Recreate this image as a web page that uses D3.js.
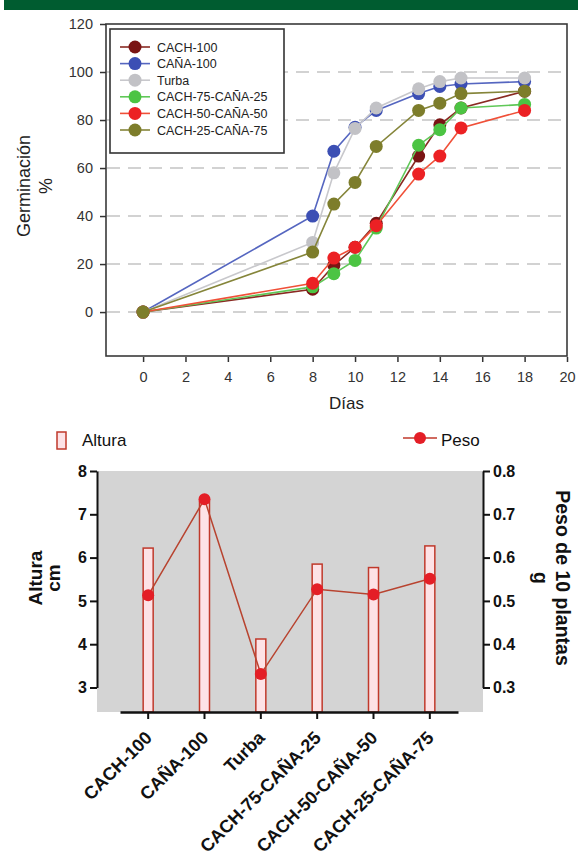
<!DOCTYPE html>
<html>
<head>
<meta charset="utf-8">
<script src="https://cdn.jsdelivr.net/npm/d3@7"></script>
<style>
  body { margin: 0; background: #fff; }
  svg { display: block; font-family: "Liberation Sans", Arial, sans-serif; }
</style>
</head>
<body>
<svg width="578" height="855"></svg>
<script>
// germination data (top chart)
const days = [0, 8, 9, 10, 11, 13, 14, 15, 18];
const seriesNames = ["CACH-100", "CAÑA-100", "Turba", "CACH-75-CAÑA-25", "CACH-50-CAÑA-50", "CACH-25-CAÑA-75"];
const cach100 = [0, 9.5, 19.5, 27, 37, 65, 78, 85, 92];
const cana100 = [0, 40, 67, 77, 84, 91, 94, 95, 96];
const turba = [0, 29, 58, 76.5, 85, 93, 96, 97.5, 97.5];
const cach75 = [0, 10.5, 16, 21.5, 35, 69.5, 76, 85, 86.5];
const cach50 = [0, 12, 22.5, 27, 36, 57.5, 65, 76.7, 84];
const cach25 = [0, 25, 45, 54, 69, 84, 87, 91, 92];
const seriesColors = ["#7a1414", "#3c4fb4", "#c2c2c6", "#4cc443", "#ec2124", "#7d7d2b"];
const lineColors = ["#8a2a22", "#5566c0", "#c8c8cc", "#60c858", "#f05038", "#85853a"];

// growth data (bottom chart)
const treatments = ["CACH-100", "CAÑA-100", "Turba", "CACH-75-CAÑA-25", "CACH-50-CAÑA-50", "CACH-25-CAÑA-75"];
const altura = [6.22, 7.3, 4.12, 5.85, 5.77, 6.27];
const peso = [0.513, 0.735, 0.331, 0.527, 0.515, 0.551];

const svg = d3.select("svg");

// green header strip
svg.append("rect").attr("x", 4).attr("y", 0).attr("width", 574).attr("height", 10).attr("fill", "#005c30");

//---------------- top chart ----------------
const x = d3.scaleLinear().domain([-1.75, 20]).range([106, 567]);
const y = d3.scaleLinear().domain([-18.3, 120]).range([356, 24]);

const gTop = svg.append("g");

// dashed grid
gTop.append("g").selectAll("line")
  .data([0, 20, 40, 60, 80, 100])
  .enter().append("line")
  .attr("x1", 107).attr("x2", 566)
  .attr("y1", d => y(d)).attr("y2", d => y(d))
  .attr("stroke", "#c4c4c4").attr("stroke-width", 1.5)
  .attr("stroke-dasharray", "13,8");

// frame
gTop.append("rect")
  .attr("x", 106).attr("y", 24).attr("width", 461).attr("height", 332)
  .attr("fill", "none").attr("stroke", "#3a3a3a").attr("stroke-width", 1.6);

// y axis
const yAx = gTop.append("g").attr("transform", "translate(100,0)")
  .call(d3.axisLeft(y).tickValues([0, 20, 40, 60, 80, 100, 120]).tickSize(0).tickPadding(7));
yAx.select(".domain").remove();
yAx.selectAll(".tick line").attr("x1", 0).attr("x2", 6).attr("stroke", "#333").attr("stroke-width", 1.5);
yAx.selectAll("text").attr("font-size", 14.5).attr("fill", "#333").attr("font-family", "Liberation Sans, Arial");

// x axis
const xAx = gTop.append("g").attr("transform", "translate(0,357)")
  .call(d3.axisBottom(x).tickValues(d3.range(0, 21, 2)).tickSize(5).tickPadding(10));
xAx.select(".domain").remove();
xAx.selectAll(".tick line").attr("stroke", "#333").attr("stroke-width", 1.5);
xAx.selectAll("text").attr("font-size", 14.5).attr("fill", "#333").attr("font-family", "Liberation Sans, Arial");

gTop.append("text").attr("x", x(9.6)).attr("y", 409).attr("text-anchor", "middle")
  .attr("font-size", 17).attr("fill", "#222").text("Días");

gTop.append("text").attr("transform", "translate(30,186) rotate(-90)").attr("text-anchor", "middle")
  .attr("font-size", 18).attr("fill", "#222").text("Germinación");
gTop.append("text").attr("transform", "translate(52,186) rotate(-90)").attr("text-anchor", "middle")
  .attr("font-size", 18).attr("fill", "#222").text("%");

const allSeries = [cach100, cana100, turba, cach75, cach50, cach25];
const line = d3.line().x((d, i) => x(days[i])).y(d => y(d));

allSeries.forEach((vals, k) => {
  const g = gTop.append("g");
  g.append("path").datum(vals).attr("d", line)
    .attr("fill", "none").attr("stroke", lineColors[k]).attr("stroke-width", 1.6);
  g.selectAll("circle").data(vals).enter().append("circle")
    .attr("cx", (d, i) => x(days[i])).attr("cy", d => y(d)).attr("r", 6.5)
    .attr("fill", seriesColors[k]);
});

// legend
const leg = gTop.append("g");
leg.append("rect").attr("x", 110).attr("y", 29).attr("width", 174).attr("height", 124)
  .attr("fill", "#fff").attr("stroke", "#333").attr("stroke-width", 1.6);
seriesNames.forEach((name, k) => {
  const ly = 47 + k * 16.6;
  leg.append("line").attr("x1", 120).attr("x2", 150).attr("y1", ly).attr("y2", ly)
    .attr("stroke", lineColors[k]).attr("stroke-width", 1.6);
  leg.append("circle").attr("cx", 135).attr("cy", ly).attr("r", 6.5).attr("fill", seriesColors[k]);
  leg.append("text").attr("x", 157).attr("y", ly + 4.5).attr("font-size", 12.5).attr("fill", "#222").text(name);
});

//---------------- bottom chart ----------------
const bx = d3.scaleBand().domain(treatments).range([120, 458]);
const yA = d3.scaleLinear().domain([3, 8]).range([687.5, 471]);
const yP = d3.scaleLinear().domain([0.3, 0.8]).range([687.5, 471]);
const bot = svg.append("g");

bot.append("rect").attr("x", 97).attr("y", 471).attr("width", 386).attr("height", 241).attr("fill", "#d4d4d4");

// bars
bot.append("g").selectAll("rect").data(altura).enter().append("rect")
  .attr("x", (d, i) => bx(treatments[i]) + bx.bandwidth() / 2 - 5)
  .attr("width", 10)
  .attr("y", d => yA(d))
  .attr("height", d => 712 - yA(d))
  .attr("fill", "#fde2e6").attr("stroke", "#c0392b").attr("stroke-width", 1.5);

// peso line
const pLine = d3.line().x((d, i) => bx(treatments[i]) + bx.bandwidth() / 2).y(d => yP(d));
bot.append("path").datum(peso).attr("d", pLine).attr("fill", "none")
  .attr("stroke", "#b8432f").attr("stroke-width", 1.5);
bot.append("g").selectAll("circle").data(peso).enter().append("circle")
  .attr("cx", (d, i) => bx(treatments[i]) + bx.bandwidth() / 2).attr("cy", d => yP(d))
  .attr("r", 6).attr("fill", "#e41e26");

// left axis
const la = bot.append("g").attr("transform", "translate(97,0)")
  .call(d3.axisLeft(yA).ticks(5).tickSize(7).tickSizeOuter(0).tickPadding(3));
la.select(".domain").attr("stroke", "#111").attr("stroke-width", 2);
la.selectAll(".tick line").attr("stroke", "#111").attr("stroke-width", 2);
la.selectAll("text").attr("font-size", 16).attr("font-weight", "bold").attr("fill", "#111").attr("font-family", "Liberation Sans, Arial");

// right axis
const ra = bot.append("g").attr("transform", "translate(483,0)")
  .call(d3.axisRight(yP).ticks(5).tickSize(7).tickSizeOuter(0).tickPadding(3).tickFormat(d3.format(".1f")));
ra.select(".domain").attr("stroke", "#111").attr("stroke-width", 2);
ra.selectAll(".tick line").attr("stroke", "#111").attr("stroke-width", 2);
ra.selectAll("text").attr("font-size", 16).attr("font-weight", "bold").attr("fill", "#111").attr("font-family", "Liberation Sans, Arial");

// bottom axis
const ba = bot.append("g").attr("transform", "translate(0,712)")
  .call(d3.axisBottom(bx).tickSize(7).tickSizeOuter(0));
ba.select(".domain").attr("stroke", "#111").attr("stroke-width", 2.5);
ba.selectAll(".tick line").attr("stroke", "#111").attr("stroke-width", 2);
ba.selectAll("text")
  .attr("font-size", 18).attr("font-weight", "bold").attr("fill", "#111").attr("font-family", "Liberation Sans, Arial")
  .attr("text-anchor", "end")
  .attr("y", 0).attr("dy", 0)
  .attr("transform", "translate(5,27) rotate(-45)");

// axis titles
bot.append("text").attr("transform", "translate(42,578) rotate(-90)").attr("text-anchor", "middle")
  .attr("font-size", 19).attr("font-weight", "bold").attr("fill", "#111").text("Altura");
bot.append("text").attr("transform", "translate(60,578) rotate(-90)").attr("text-anchor", "middle")
  .attr("font-size", 19).attr("font-weight", "bold").attr("fill", "#111").text("cm");
bot.append("text").attr("transform", "translate(556,578) rotate(90)").attr("text-anchor", "middle")
  .attr("font-size", 19.5).attr("font-weight", "bold").attr("fill", "#111").text("Peso de 10 plantas");
bot.append("text").attr("transform", "translate(534,578) rotate(90)").attr("text-anchor", "middle")
  .attr("font-size", 19.5).attr("font-weight", "bold").attr("fill", "#111").text("g");

// bottom legend
bot.append("rect").attr("x", 57).attr("y", 432).attr("width", 9).attr("height", 17)
  .attr("fill", "#fde2e6").attr("stroke", "#c0392b").attr("stroke-width", 1.5);
bot.append("text").attr("x", 82).attr("y", 446).attr("font-size", 17).attr("fill", "#111").text("Altura");
bot.append("line").attr("x1", 403).attr("x2", 437).attr("y1", 438).attr("y2", 438)
  .attr("stroke", "#c0392b").attr("stroke-width", 1.5);
bot.append("circle").attr("cx", 420).attr("cy", 438).attr("r", 6).attr("fill", "#e41e26");
bot.append("text").attr("x", 441).attr("y", 446).attr("font-size", 17).attr("fill", "#111").text("Peso");
</script>
</body>
</html>
